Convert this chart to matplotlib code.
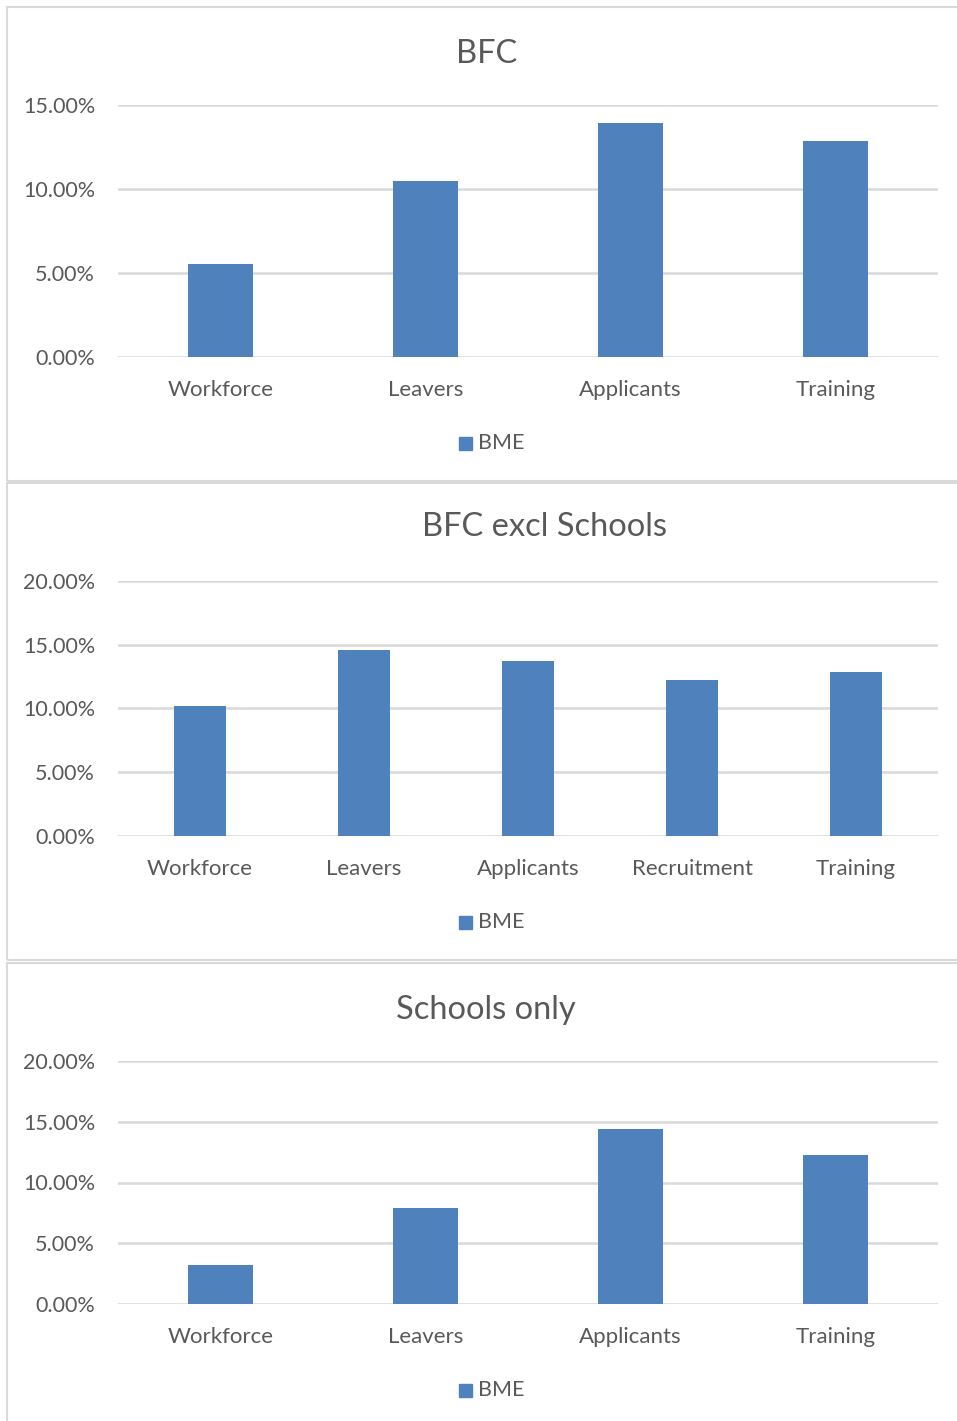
import matplotlib.pyplot as plt
from matplotlib.patches import Rectangle
from matplotlib.ticker import PercentFormatter

plt.rcParams['font.family'] = ['Lato', 'DejaVu Sans']

# daten
cats_bfc = ["Workforce", "Leavers", "Applicants", "Training"]
bme_bfc = [5.55, 10.5, 13.95, 12.85]

cats_excl = ["Workforce", "Leavers", "Applicants", "Recruitment", "Training"]
bme_excl = [10.2, 14.6, 13.75, 12.25, 12.85]

cats_schools = ["Workforce", "Leavers", "Applicants", "Training"]
bme_schools = [3.2, 7.9, 14.4, 12.3]

W, H = 957, 1421
grey = "#595959"
blue = "#4f81bd"
grid = "#d9d9d9"

fig = plt.figure(figsize=(W / 100, H / 100), dpi=100)

# (box top, box bottom, plot top, plot bottom, ymax, title, title x, title y, xlab y, legend y)
panels = [
    (cats_bfc, bme_bfc, 7, 481, 105, 357, 15, "BFC", 487, 54, 390, 443),
    (cats_excl, bme_excl, 483, 960, 581, 836, 20, "BFC excl Schools", 545, 527, 869, 922),
    (cats_schools, bme_schools, 963, 1425, 1061, 1304, 20, "Schools only", 486, 1010, 1337, 1390),
]

for cats, vals, btop, bbot, ptop, pbot, ymax, title, tx, ty, xly, ly in panels:
    # rahmen
    fig.patches.append(Rectangle((7 / W, 1 - bbot / H), 960 / W, (bbot - btop) / H,
                                 transform=fig.transFigure, fill=False,
                                 edgecolor="#d9d9d9", lw=1.5))
    x0, x1 = 118, 938
    ax = fig.add_axes([x0 / W, 1 - pbot / H, (x1 - x0) / W, (pbot - ptop) / H])
    x = range(len(cats))
    ax.bar(x, vals, width=0.317, color=blue, zorder=3)
    ax.set_xlim(-0.5, len(cats) - 0.5)
    ax.set_ylim(0, ymax)
    ax.set_yticks(range(0, ymax + 1, 5))
    ax.yaxis.set_major_formatter(PercentFormatter(decimals=2))
    ax.grid(axis="y", color=grid, lw=1.8, zorder=0)
    for s in ax.spines.values():
        s.set_visible(False)
    ax.tick_params(length=0, labelsize=15.5, colors=grey)
    ax.tick_params(axis="y", pad=16.5)
    ax.set_xticks(list(x))
    ax.set_xticklabels([])
    for i, c in enumerate(cats):
        ax.text(i, 1 - (xly - ptop) / (pbot - ptop), c, transform=ax.get_xaxis_transform(),
                ha="center", va="center", fontsize=16, color=grey)
    fig.text(tx / W, 1 - ty / H, title, ha="center", va="center", fontsize=23.5, color=grey)
    # legende
    fig.patches.append(Rectangle((459 / W, 1 - (ly + 7) / H), 13 / W, 13 / H,
                                 transform=fig.transFigure, color=blue))
    fig.text(478 / W, 1 - ly / H, "BME", ha="left", va="center", fontsize=15.5, color=grey)

fig.savefig("out.png", dpi=100)
